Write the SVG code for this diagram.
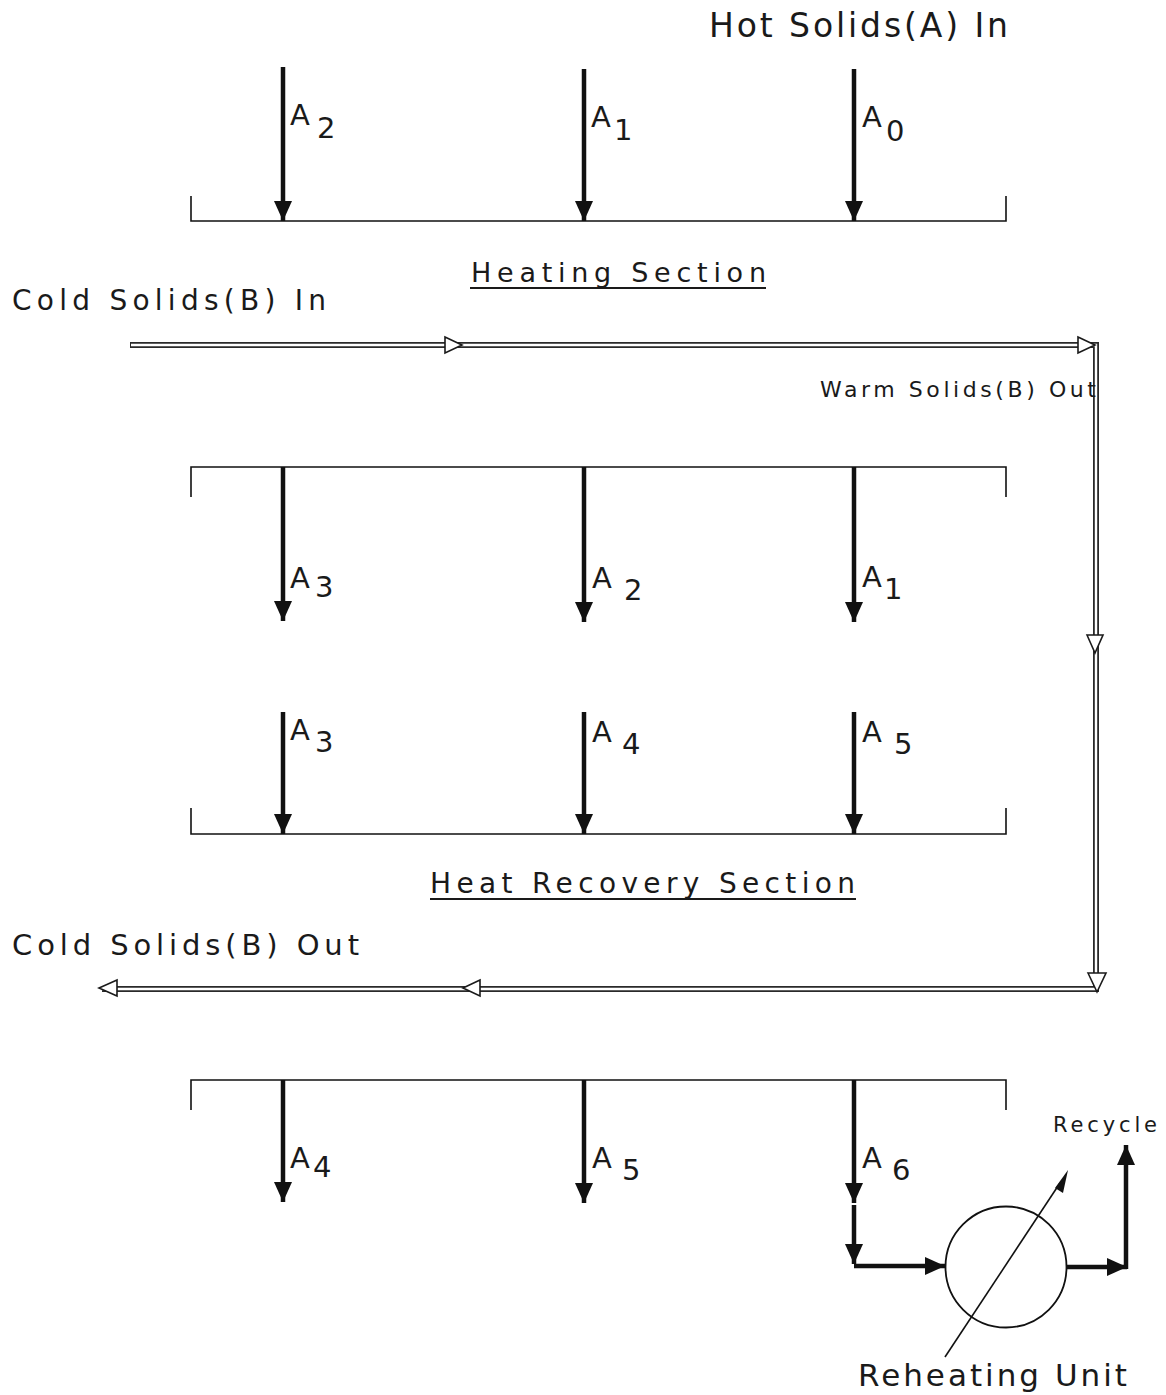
<svg xmlns="http://www.w3.org/2000/svg" width="1166" height="1395" viewBox="0 0 1166 1395">
  <style>
    .lbl { font-family: "DejaVu Sans", "Liberation Sans", sans-serif; fill: #1a1a1a; }
    .sub { font-family: "DejaVu Sans", "Liberation Sans", sans-serif; fill: #1a1a1a; font-size: 29px; }
    .bracket { fill: none; stroke: #111; stroke-width: 1.6; }
    .flow { stroke: #111; stroke-width: 4.5; fill: none; }
    .pipe-out { fill: none; stroke: #2a2a2a; stroke-width: 6; }
    .pipe-in { fill: none; stroke: #fff; stroke-width: 2.4; }
    .hollow { fill: #fff; stroke: #1a1a1a; stroke-width: 1.6; stroke-linejoin: miter; }
    .uline { stroke: #1a1a1a; stroke-width: 2; }
  </style>
  <defs>
    <!-- solid arrowhead, drawn along +x so orient="auto" turns it with the line -->
    <marker id="head" viewBox="0 0 20 18" refX="20" refY="9" markerWidth="20" markerHeight="18" markerUnits="userSpaceOnUse" orient="auto">
      <path d="M0,0 L20,9 L0,18 Z" fill="#111"/>
    </marker>
  </defs>

  <!-- section vessels -->
  <g id="heating-vessel">
    <path class="bracket" d="M191,196 V221 H1006 V196"/>
  </g>
  <g id="recovery-upper-vessel">
    <path class="bracket" d="M191,497 V467 H1006 V497"/>
  </g>
  <g id="recovery-lower-vessel">
    <path class="bracket" d="M191,808 V834 H1006 V808"/>
  </g>
  <g id="bottom-vessel">
    <path class="bracket" d="M191,1110 V1080 H1006 V1110"/>
  </g>

  <!-- reheating unit -->
  <g id="reheating-unit">
    <circle cx="1006" cy="1267" r="60.5" fill="none" stroke="#111" stroke-width="1.8"/>
  </g>

  <!-- connectors -->
  <g id="connectors">
    <!-- solids A, heating section -->
    <path class="flow" d="M283,67 V221" marker-end="url(#head)"/>
    <path class="flow" d="M584,69 V221" marker-end="url(#head)"/>
    <path class="flow" d="M854,69 V221" marker-end="url(#head)"/>
    <!-- solids A, leaving upper vessel -->
    <path class="flow" d="M283,467 V621" marker-end="url(#head)"/>
    <path class="flow" d="M584,467 V622" marker-end="url(#head)"/>
    <path class="flow" d="M854,467 V622" marker-end="url(#head)"/>
    <!-- solids A, entering lower vessel -->
    <path class="flow" d="M283,712 V834" marker-end="url(#head)"/>
    <path class="flow" d="M584,712 V834" marker-end="url(#head)"/>
    <path class="flow" d="M854,712 V834" marker-end="url(#head)"/>
    <!-- solids A, leaving bottom vessel -->
    <path class="flow" d="M283,1080 V1202" marker-end="url(#head)"/>
    <path class="flow" d="M584,1080 V1203" marker-end="url(#head)"/>
    <path class="flow" d="M854,1080 V1203" marker-end="url(#head)"/>
    <!-- A6 to reheating unit -->
    <path class="flow" d="M854,1205 V1264" marker-end="url(#head)"/>
    <path class="flow" d="M854,1266 H945" marker-end="url(#head)"/>
    <!-- reheating unit to recycle -->
    <path class="flow" d="M1066,1267 H1127" marker-end="url(#head)"/>
    <path class="flow" d="M1126,1269 V1145" marker-end="url(#head)"/>
    <!-- heating indicator across the unit -->
    <path d="M945,1357 L1060,1183" stroke="#111" stroke-width="1.6" fill="none"/>
    <path d="M1068,1170 L1063,1193 L1055,1188 Z" fill="#111"/>

    <!-- solids B pipe -->
    <path class="pipe-out" d="M130,345 H1096 V989 H102"/>
    <path class="pipe-in" d="M131,345 H1096 V989 H102"/>
    <polygon class="hollow" points="445,337 462,345 445,353"/>
    <polygon class="hollow" points="1078,337 1095,345 1078,353"/>
    <polygon class="hollow" points="1087,635 1095,653 1103,635"/>
    <polygon class="hollow" points="1088,973 1097,992 1106,973"/>
    <polygon class="hollow" points="480,980 463,988 480,996"/>
    <polygon class="hollow" points="117,980 99,988 117,996"/>
  </g>

  <!-- stream labels -->
  <g id="labels">
    <text class="lbl" x="709" y="37" font-size="33" textLength="299" lengthAdjust="spacing">Hot Solids(A) In</text>
    <text class="lbl" x="471" y="282" font-size="27" textLength="295" lengthAdjust="spacing">Heating Section</text>
    <line class="uline" x1="470" y1="288" x2="766" y2="288"/>
    <text class="lbl" x="12" y="310" font-size="28" textLength="314" lengthAdjust="spacing">Cold Solids(B) In</text>
    <text class="lbl" x="820" y="397" font-size="22" textLength="276" lengthAdjust="spacing">Warm Solids(B) Out</text>
    <text class="lbl" x="430" y="893" font-size="28" textLength="425" lengthAdjust="spacing">Heat Recovery Section</text>
    <line class="uline" x1="430" y1="899" x2="856" y2="899"/>
    <text class="lbl" x="12" y="955" font-size="29" textLength="347" lengthAdjust="spacing">Cold Solids(B) Out</text>
    <text class="lbl" x="1053" y="1132" font-size="21" textLength="104" lengthAdjust="spacing">Recycle</text>
    <text class="lbl" x="858" y="1386" font-size="31" textLength="269" lengthAdjust="spacing">Reheating Unit</text>
  </g>

  <!-- stream names A0..A6 -->
  <g id="stream-names">
    <text class="sub" x="290" y="125">A</text><text class="sub" x="317" y="138">2</text>
    <text class="sub" x="591" y="127">A</text><text class="sub" x="614" y="140">1</text>
    <text class="sub" x="862" y="127">A</text><text class="sub" x="886" y="141">0</text>

    <text class="sub" x="290" y="588">A</text><text class="sub" x="315" y="597">3</text>
    <text class="sub" x="592" y="588">A</text><text class="sub" x="624" y="600">2</text>
    <text class="sub" x="862" y="587">A</text><text class="sub" x="884" y="599">1</text>

    <text class="sub" x="290" y="740">A</text><text class="sub" x="315" y="752">3</text>
    <text class="sub" x="592" y="742">A</text><text class="sub" x="622" y="754">4</text>
    <text class="sub" x="862" y="742">A</text><text class="sub" x="894" y="754">5</text>

    <text class="sub" x="290" y="1168">A</text><text class="sub" x="313" y="1177">4</text>
    <text class="sub" x="592" y="1168">A</text><text class="sub" x="622" y="1180">5</text>
    <text class="sub" x="862" y="1168">A</text><text class="sub" x="892" y="1180">6</text>
  </g>
</svg>
